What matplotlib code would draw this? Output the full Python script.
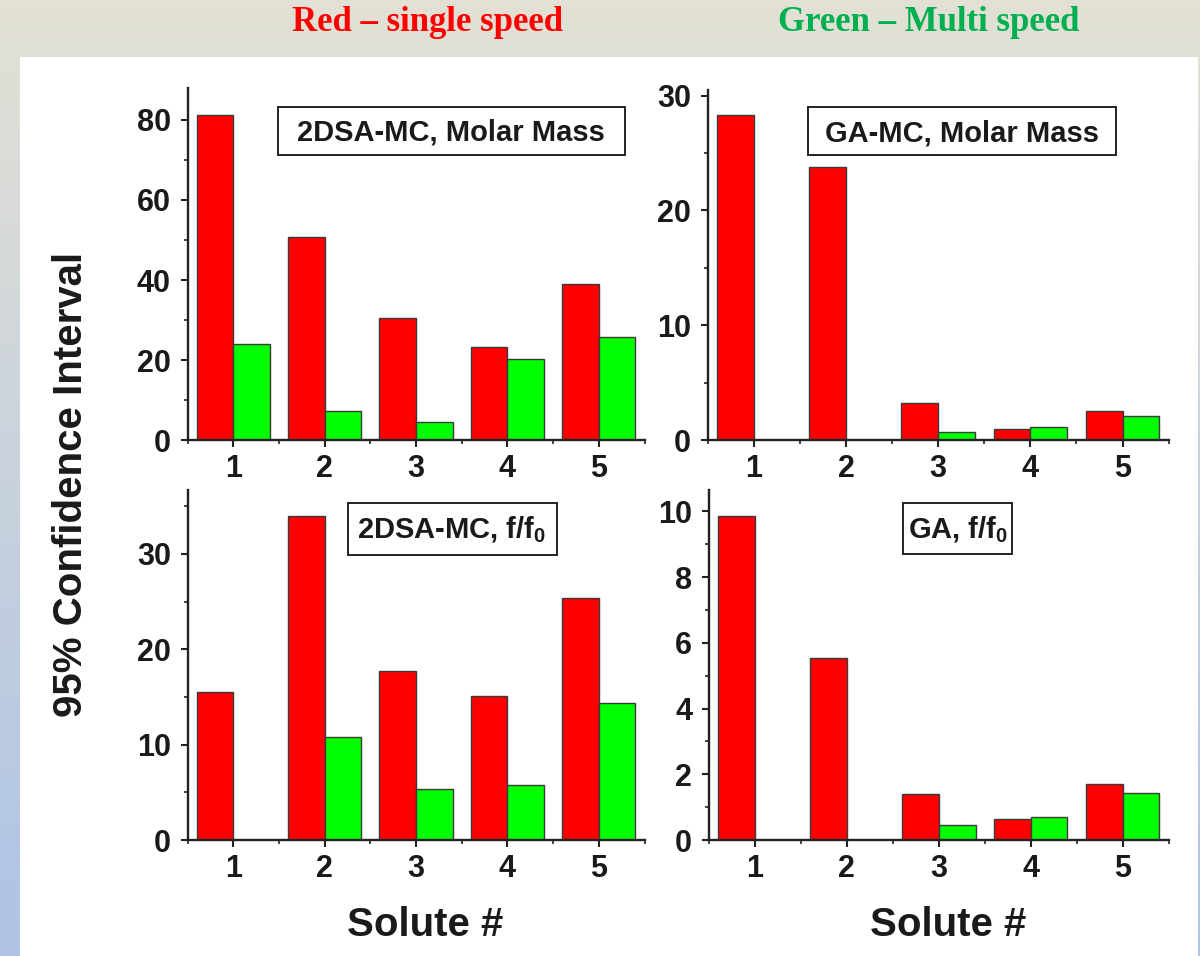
import numpy as np
import matplotlib
matplotlib.use("Agg")
import matplotlib.pyplot as plt
from matplotlib.patches import Rectangle
from matplotlib.ticker import MultipleLocator

plt.rcParams['font.family'] = ['Liberation Sans', 'DejaVu Sans']
plt.rcParams['font.weight'] = 'bold'
plt.rcParams['mathtext.default'] = 'regular'

# solute numbers and 95% confidence intervals (red = single speed, green = multi speed)
solutes = np.arange(1, 6)
tick_labels = ['1', '2', '3', '4', '5']

dsa_mw_single = [81.2, 50.8, 30.6, 23.2, 39.1]
dsa_mw_multi = [24.0, 7.3, 4.5, 20.2, 25.7]

ga_mw_single = [28.3, 23.8, 3.26, 0.93, 2.56]
ga_mw_multi = [0.0, 0.0, 0.73, 1.14, 2.12]

dsa_ff0_single = [15.5, 34.0, 17.7, 15.1, 25.4]
dsa_ff0_multi = [0.0, 10.8, 5.4, 5.8, 14.4]

ga_ff0_single = [9.86, 5.53, 1.41, 0.65, 1.71]
ga_ff0_multi = [0.0, 0.0, 0.46, 0.70, 1.43]

panel_titles = ['2DSA-MC, Molar Mass', 'GA-MC, Molar Mass',
                '2DSA-MC, f/f$_0$', 'GA, f/f$_0$']

W, H = 1200, 956
fig = plt.figure(figsize=(W / 100, H / 100), dpi=100)

# slide background: vertical gradient, white content panel on top
bg = fig.add_axes([0, 0, 1, 1], zorder=-10)
top = np.array([227, 225, 213]) / 255
bot = np.array([174, 195, 229]) / 255
t = np.linspace(0, 1, 256)[:, None]
grad = top[None, :] * (1 - t) + bot[None, :] * t
bg.imshow(grad[:, None, :], aspect='auto', extent=[0, 1, 0, 1], origin='upper')
bg.add_patch(Rectangle((20 / W, 0), (1198 - 20) / W, (H - 57) / H,
                       facecolor='white', edgecolor='none', transform=bg.transAxes))
bg.set_xlim(0, 1)
bg.set_ylim(0, 1)
bg.axis('off')

RED = '#ff0000'
GREEN = '#00ff00'
INK = '#1a1a1a'


def px_axes(l, t_, r, b):
    return [l / W, 1 - b / H, (r - l) / W, (b - t_) / H]


def draw_panel(rect, single, multi, ymax, major, minor, title, box, text_xy):
    ax = fig.add_axes(rect)
    ax.patch.set_alpha(0)
    ax.bar(solutes - 0.2, single, 0.4, color=RED, edgecolor='#3a3a3a', linewidth=1)
    ax.bar(solutes + 0.2, multi, 0.4, color=GREEN, edgecolor='#3a3a3a', linewidth=1)
    ax.set_xlim(0.5, 5.5)
    ax.set_ylim(0, ymax)
    ax.set_xticks(solutes)
    ax.set_xticklabels(tick_labels)
    ax.xaxis.set_minor_locator(MultipleLocator(0.5))
    ax.yaxis.set_major_locator(MultipleLocator(major))
    ax.yaxis.set_minor_locator(MultipleLocator(minor))
    for s in ['top', 'right']:
        ax.spines[s].set_visible(False)
    for s in ['left', 'bottom']:
        ax.spines[s].set_linewidth(1.7)
        ax.spines[s].set_color('#222222')
    ax.tick_params(which='major', direction='out', length=5, width=1.5,
                   labelsize=22, color='#222222', labelcolor=INK)
    ax.tick_params(which='minor', direction='out', length=3, width=1.2, color='#222222')
    ax.tick_params(axis='x', which='major', pad=5)
    ax.tick_params(axis='y', which='major', pad=7)
    for lab in ax.get_xticklabels() + ax.get_yticklabels():
        lab.set_fontweight('bold')
    x0, y0, x1, y1 = box
    ax.add_patch(Rectangle((x0, y0), x1 - x0, y1 - y0, transform=ax.transAxes,
                           facecolor='white', edgecolor='#222222', linewidth=1.4,
                           zorder=5, clip_on=False))
    ax.text(text_xy[0], text_xy[1], title, transform=ax.transAxes, ha='center',
            va='baseline', fontsize=21, fontweight='bold', color=INK, zorder=6)
    return ax


ax1 = draw_panel(px_axes(187.5, 88, 644.6, 440), dsa_mw_single, dsa_mw_multi,
                 88, 20, 10, panel_titles[0],
                 (0.199, 0.810, 0.957, 0.946), (0.577, 0.850))
ax2 = draw_panel(px_axes(707.9, 90, 1168.6, 440), ga_mw_single, ga_mw_multi,
                 30.5, 10, 5, panel_titles[1],
                 (0.217, 0.814, 0.885, 0.951), (0.551, 0.854))
ax3 = draw_panel(px_axes(187.5, 490, 644.6, 840), dsa_ff0_single, dsa_ff0_multi,
                 36.7, 10, 5, panel_titles[2],
                 (0.352, 0.814, 0.808, 0.963), (0.578, 0.862))
ax4 = draw_panel(px_axes(708.9, 490, 1168.6, 840), ga_ff0_single, ga_ff0_multi,
                 10.65, 2, 1, panel_titles[3],
                 (0.423, 0.817, 0.660, 0.963), (0.541, 0.863))

for ax in (ax3, ax4):
    ax.set_xlabel('Solute #', fontsize=29, fontweight='bold', color=INK)
    ax.xaxis.set_label_coords(0.52, -0.19)

fig.text(71 / W, 1 - 484 / H, '95% Confidence Interval', rotation=90,
         ha='center', va='center', fontsize=29, fontweight='bold', color=INK)

fig.text(427 / W, 1 - 31 / H, 'Red \u2013 single speed', ha='center', va='baseline',
         fontsize=25, fontweight='bold', color='#ff0000',
         family=['Liberation Serif', 'DejaVu Serif'])
fig.text(929 / W, 1 - 31 / H, 'Green \u2013 Multi speed', ha='center', va='baseline',
         fontsize=25, fontweight='bold', color='#00b050',
         family=['Liberation Serif', 'DejaVu Serif'])

fig.savefig('out.png', dpi=100)
